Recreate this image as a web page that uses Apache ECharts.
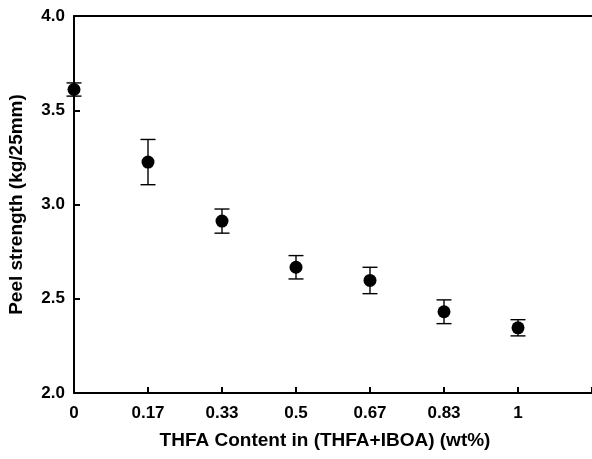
<!DOCTYPE html>
<html>
<head>
<meta charset="utf-8">
<script src="https://cdn.jsdelivr.net/npm/echarts@6/dist/echarts.min.js"></script>
<style>
  html, body { margin: 0; padding: 0; background: #fff; }
  #chart { width: 592px; height: 459px; }
</style>
</head>
<body>
<div id="chart"></div>
<script>
const contents = ["0", "0.17", "0.33", "0.5", "0.67", "0.83", "1"];
const peelStrength = [3.61, 3.225, 2.912, 2.667, 2.597, 2.431, 2.346];
const peelError = [0.035, 0.12, 0.064, 0.062, 0.07, 0.063, 0.043];
const yTicks = [2.0, 2.5, 3.0, 3.5, 4.0];

const font = "'Liberation Sans', Arial, sans-serif";
const chart = echarts.init(document.getElementById("chart"));

const points = contents.map((c, i) => [i, peelStrength[i]]);
const bars = contents.map((c, i) => [i, peelStrength[i], peelError[i]]);

function renderErrorBar(params, api) {
  const x = api.value(0);
  const y = api.value(1);
  const e = api.value(2);
  const top = api.coord([x, y + e]);
  const bottom = api.coord([x, y - e]);
  const half = 7.5;
  const style = { stroke: "#000", lineWidth: 1.4 };
  return {
    type: "group",
    children: [
      { type: "line", shape: { x1: top[0], y1: top[1], x2: bottom[0], y2: bottom[1] }, style },
      { type: "line", shape: { x1: top[0] - half, y1: top[1], x2: top[0] + half, y2: top[1] }, style },
      { type: "line", shape: { x1: bottom[0] - half, y1: bottom[1], x2: bottom[0] + half, y2: bottom[1] }, style },
    ],
  };
}

const option = {
  animation: false,
  grid: { left: 74, right: 0, top: 16, bottom: 66, outerBoundsMode: "none" },
  xAxis: [
    {
      type: "value",
      min: 0,
      max: 7,
      interval: 1,
      position: "bottom",
      name: "THFA Content in (THFA+IBOA) (wt%)",
      nameLocation: "middle",
      nameGap: 38,
      nameTextStyle: { fontFamily: font, fontWeight: "bold", fontSize: 19, color: "#000", padding: [0, 0, 0, -16] },
      axisLine: { show: true, lineStyle: { color: "#000", width: 2 } },
      axisTick: { show: true, inside: true, length: 6, lineStyle: { color: "#000", width: 2 } },
      axisLabel: {
        fontFamily: font,
        fontWeight: "bold",
        fontSize: 17,
        color: "#000",
        margin: 12,
        formatter: (v) => contents[v] ?? "",
      },
      splitLine: { show: false },
    },
    {
      type: "value",
      min: 0,
      max: 7,
      position: "top",
      axisLine: { show: true, lineStyle: { color: "#000", width: 2 } },
      axisTick: { show: false },
      axisLabel: { show: false },
      splitLine: { show: false },
    },
  ],
  yAxis: {
    type: "value",
    min: yTicks[0],
    max: yTicks[yTicks.length - 1],
    interval: 0.5,
    name: "Peel strength (kg/25mm)",
    nameLocation: "middle",
    nameGap: 48,
    nameTextStyle: { fontFamily: font, fontWeight: "bold", fontSize: 19, color: "#000" },
    axisLine: { show: true, lineStyle: { color: "#000", width: 2 } },
    axisTick: { show: true, inside: true, length: 6, lineStyle: { color: "#000", width: 2 } },
    axisLabel: {
      fontFamily: font,
      fontWeight: "bold",
      fontSize: 17,
      color: "#000",
      margin: 9,
      formatter: (v) => v.toFixed(1),
    },
    splitLine: { show: false },
  },
  series: [
    {
      type: "custom",
      renderItem: renderErrorBar,
      data: bars,
      encode: { x: 0, y: 1 },
      z: 2,
    },
    {
      type: "scatter",
      data: points,
      symbol: "circle",
      symbolSize: 13,
      itemStyle: { color: "#000", opacity: 1 },
      z: 3,
    },
  ],
};

chart.setOption(option);
</script>
</body>
</html>
